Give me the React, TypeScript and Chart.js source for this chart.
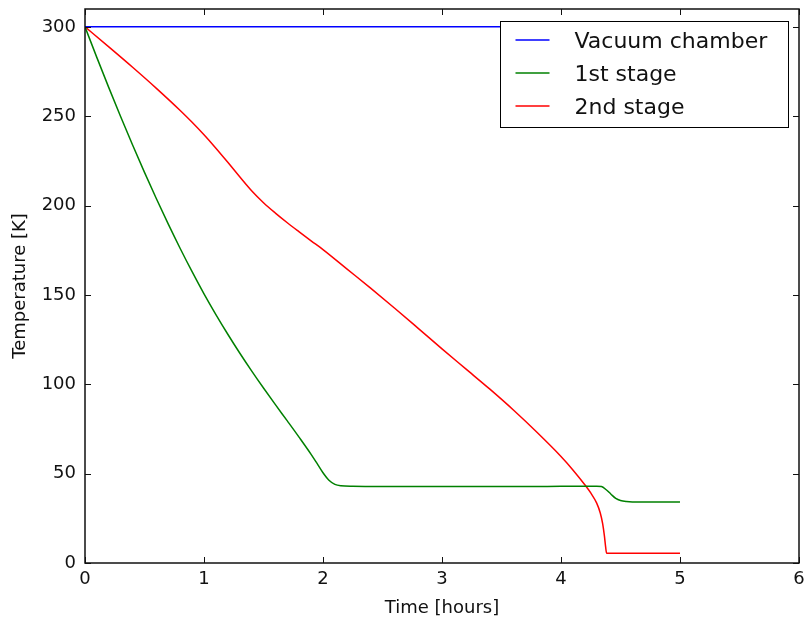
import React, { useEffect, useRef } from "react";
import { Chart, registerables } from "chart.js";

Chart.register(...registerables);

// Cool-down of the cryostat: time in hours, temperature in kelvin
const chamberTime = [0, 5];
const chamberTemp = [300, 300];

const stage1Time = [
  0, 0.1, 0.2, 0.3, 0.4, 0.5, 0.6, 0.7, 0.8, 0.9, 1.0, 1.1, 1.2, 1.3, 1.4, 1.5,
  1.6, 1.7, 1.8, 1.9, 1.95, 2.0, 2.05, 2.1, 2.15, 2.25, 2.5, 3.0, 3.5, 4.0, 4.3,
  4.34, 4.38, 4.42, 4.46, 4.5, 4.55, 4.6, 5.0,
];
const stage1Temp = [
  300, 282.8, 266, 249.7, 233.9, 218.6, 203.8, 189.6, 176, 163, 150.6, 139, 128,
  117.5, 107.5, 97.9, 88.6, 79.5, 70.3, 60.8, 55.7, 50.5, 46.3, 44, 43.2, 42.9,
  42.8, 42.8, 42.8, 42.9, 43, 42.8, 41, 38.5, 36.2, 35, 34.4, 34.2, 34.1,
];

const stage2Time = [
  0, 0.2, 0.4, 0.6, 0.8, 0.9, 1.0, 1.1, 1.2, 1.3, 1.4, 1.5, 1.6, 1.7, 1.8, 1.9,
  2.0, 2.2, 2.4, 2.6, 2.8, 3.0, 3.2, 3.4, 3.6, 3.8, 4.0, 4.1, 4.2, 4.25, 4.3,
  4.33, 4.35, 4.365, 4.375, 4.383, 5.0,
];
const stage2Temp = [
  300, 288.8, 277.4, 265.6, 253.2, 246.6, 239.6, 232.1, 224.2, 216.1, 208.3,
  201.6, 195.8, 190.4, 185.3, 180.3, 175.4, 164.6, 153.8, 142.7, 131.3, 119.8,
  108.6, 97.4, 85.6, 73, 59.6, 52.1, 43.8, 39.2, 33.5, 28, 22, 15, 9, 5.5, 5.5,
];

const seriesNames = ["Vacuum chamber", "1st stage", "2nd stage"];
const seriesColors = ["#0000ff", "#008000", "#ff0000"];

const xTicks = [0, 1, 2, 3, 4, 5, 6];
const yTicks = [0, 50, 100, 150, 200, 250, 300];

const FONT = "'DejaVu Sans', 'Bitstream Vera Sans', sans-serif";

const toPoints = (xs: number[], ys: number[]) =>
  xs.map((x, i) => ({ x, y: ys[i] }));

// Frame on all four sides with inward-pointing ticks
const framePlugin = {
  id: "frameTicks",
  afterDatasetsDraw(chart: any) {
    const { ctx, chartArea: a, scales } = chart;
    const len = 6;
    ctx.save();
    ctx.strokeStyle = "#111";
    ctx.lineWidth = 1;
    ctx.beginPath();
    for (const v of xTicks) {
      const px = Math.round(scales.x.getPixelForValue(v)) + 0.5;
      ctx.moveTo(px, a.bottom);
      ctx.lineTo(px, a.bottom - len);
      ctx.moveTo(px, a.top);
      ctx.lineTo(px, a.top + len);
    }
    for (const v of yTicks) {
      const py = Math.round(scales.y.getPixelForValue(v)) + 0.5;
      ctx.moveTo(a.left, py);
      ctx.lineTo(a.left + len, py);
      ctx.moveTo(a.right, py);
      ctx.lineTo(a.right - len, py);
    }
    ctx.stroke();
    ctx.lineWidth = 1.5;
    ctx.strokeRect(a.left, a.top, a.right - a.left, a.bottom - a.top);
    ctx.restore();
  },
};

// Boxed legend in the upper right corner of the plot
const boxLegendPlugin = {
  id: "boxLegend",
  afterDraw(chart: any) {
    const { ctx, chartArea: a } = chart;
    const w = 288;
    const h = 106;
    const x0 = Math.round(a.right - 11 - w) + 0.5;
    const y0 = Math.round(a.top + 12) + 0.5;
    ctx.save();
    ctx.fillStyle = "#ffffff";
    ctx.fillRect(x0, y0, w, h);
    ctx.strokeStyle = "#000";
    ctx.lineWidth = 1;
    ctx.strokeRect(x0, y0, w, h);
    ctx.font = `22px ${FONT}`;
    ctx.textBaseline = "alphabetic";
    ctx.textAlign = "left";
    chart.data.datasets.forEach((ds: any, i: number) => {
      const rowY = y0 + 18.5 + i * 33;
      ctx.strokeStyle = ds.borderColor;
      ctx.lineWidth = 1.5;
      ctx.beginPath();
      ctx.moveTo(x0 + 15, rowY);
      ctx.lineTo(x0 + 49, rowY);
      ctx.stroke();
      ctx.fillStyle = "#111";
      ctx.fillText(ds.label, x0 + 74, rowY + 8);
    });
    ctx.restore();
  },
};

export default function App() {
  const canvasRef = useRef<HTMLCanvasElement | null>(null);

  useEffect(() => {
    if (!canvasRef.current) return;
    const line = (i: number, xs: number[], ys: number[]) => ({
      label: seriesNames[i],
      data: toPoints(xs, ys),
      borderColor: seriesColors[i],
      backgroundColor: seriesColors[i],
      borderWidth: 1.5,
      pointRadius: 0,
      cubicInterpolationMode: "monotone" as const,
      fill: false,
    });
    const chart = new Chart(canvasRef.current, {
      type: "line",
      data: {
        datasets: [
          line(0, chamberTime, chamberTemp),
          line(1, stage1Time, stage1Temp),
          line(2, stage2Time, stage2Temp),
        ],
      },
      options: {
        animation: false,
        responsive: true,
        maintainAspectRatio: false,
        layout: { padding: { top: 9, right: 6, left: 0, bottom: 0 } },
        plugins: {
          legend: { display: false },
          tooltip: { enabled: false },
        },
        scales: {
          x: {
            type: "linear",
            min: 0,
            max: 6,
            grid: { display: false, drawTicks: false },
            border: { display: false },
            afterBuildTicks: (s: any) => {
              s.ticks = xTicks.map((value) => ({ value }));
            },
            afterFit: (s: any) => {
              s.height = 58;
              s.paddingLeft = 0;
              s.paddingRight = 0;
            },
            ticks: {
              padding: 6,
              color: "#111",
              font: { family: FONT, size: 18 },
              maxRotation: 0,
            },
            title: {
              display: true,
              text: "Time [hours]",
              color: "#111",
              font: { family: FONT, size: 18 },
              padding: { top: 0, bottom: 2 },
            },
          },
          y: {
            type: "linear",
            min: 0,
            max: 310,
            grid: { display: false, drawTicks: false },
            border: { display: false },
            afterBuildTicks: (s: any) => {
              s.ticks = yTicks.map((value) => ({ value }));
            },
            afterFit: (s: any) => {
              s.width = 85;
              s.paddingTop = 0;
              s.paddingBottom = 0;
            },
            ticks: {
              padding: 9,
              color: "#111",
              font: { family: FONT, size: 18 },
            },
            title: {
              display: true,
              text: "Temperature [K]",
              color: "#111",
              font: { family: FONT, size: 18 },
              padding: { top: 10, bottom: 0 },
            },
          },
        },
      },
      plugins: [framePlugin, boxLegendPlugin],
    });
    return () => chart.destroy();
  }, []);

  return (
    <div
      style={{
        position: "fixed",
        left: 0,
        top: 0,
        width: 805,
        height: 621,
        background: "#fff",
      }}
    >
      <canvas ref={canvasRef} />
    </div>
  );
}
